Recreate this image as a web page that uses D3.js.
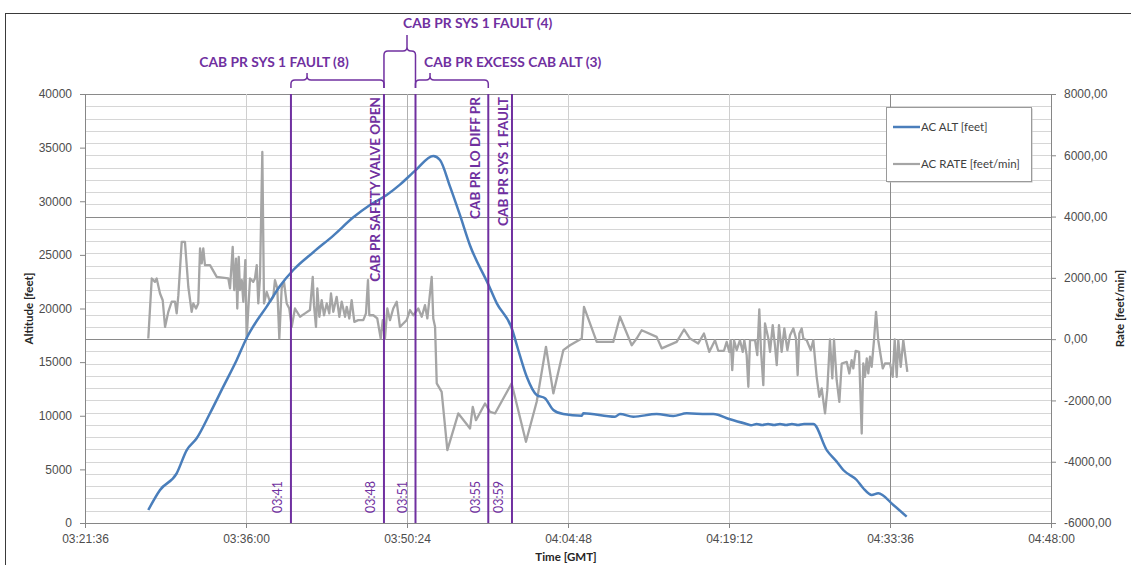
<!DOCTYPE html>
<html>
<head>
<meta charset="utf-8">
<script src="https://cdn.jsdelivr.net/npm/d3@7"></script>
<style>
  body { margin: 0; background: #fff; }
  svg { display: block; font-family: Lato, 'Open Sans', sans-serif; }
</style>
</head>
<body>
<div id="chart"></div>
<script>
// time values are minutes after 03:00:00 GMT
const altMin = [27.26, 28.31, 29.80, 30.70, 31.59, 32.78, 33.97, 35.17, 36.06, 36.81, 37.85, 39.04, 40.23, 42.02, 43.81, 45.60, 47.09, 48.58, 49.77, 51.18, 52.75, 53.35, 54.25, 55.14, 56.03, 57.67, 58.42, 59.76, 60.35, 61.11, 62.00, 62.74, 63.49, 64.38, 66.03, 66.17, 69.00, 69.45, 70.64, 72.73, 74.22, 75.42, 77.21, 77.80, 79.29, 80.78, 81.17, 81.68, 82.15, 82.69, 83.23, 83.76, 84.30, 84.83, 85.37, 85.91, 86.74, 87.94, 88.83, 89.42, 90.62, 91.21, 91.96, 92.55, 93.90, 95.09];
const altFeet = [1210, 3080, 4630, 6800, 7900, 10230, 12710, 15200, 17250, 18600, 20170, 22100, 23590, 25250, 26800, 28500, 29650, 30580, 31550, 32900, 34220, 33850, 31360, 28700, 25900, 22250, 20500, 18180, 16130, 13640, 11940, 11630, 10540, 10160, 10000, 10230, 9910, 10160, 9910, 10160, 9980, 10230, 10160, 10160, 9670, 9230, 9120, 9230, 9130, 9230, 9130, 9230, 9130, 9230, 9130, 9230, 9230, 6800, 5720, 4940, 4010, 3240, 2610, 2770, 1680, 590];

const rateMin = [27.26, 27.57, 27.86, 28.01, 28.31, 28.55, 28.76, 29.05, 29.35, 29.65, 29.80, 29.95, 30.25, 30.54, 30.84, 31.14, 31.29, 31.53, 31.73, 31.89, 32.04, 32.18, 32.33, 32.78, 33.38, 34.42, 34.57, 34.81, 34.95, 35.11, 35.22, 35.35, 35.46, 35.62, 35.76, 35.94, 36.06, 36.36, 36.65, 36.80, 36.96, 37.10, 37.25, 37.46, 37.61, 37.85, 38.15, 38.44, 38.59, 38.80, 38.98, 39.19, 39.40, 39.64, 39.87, 40.09, 40.38, 40.83, 41.28, 41.72, 41.97, 42.08, 42.26, 42.38, 42.56, 42.77, 42.98, 43.22, 43.45, 43.60, 43.81, 44.11, 44.35, 44.56, 44.86, 45.01, 45.24, 45.45, 45.69, 46.04, 46.49, 46.73, 46.91, 47.03, 47.39, 47.74, 48.05, 48.23, 48.43, 48.64, 48.88, 49.17, 49.48, 49.77, 50.07, 50.37, 50.67, 50.96, 51.41, 51.72, 52.01, 52.22, 52.61, 52.75, 52.91, 53.06, 53.50, 54.01, 54.99, 56.04, 56.28, 56.57, 57.38, 57.82, 58.27, 59.76, 61.04, 62.00, 62.83, 63.49, 64.38, 64.98, 66.03, 66.23, 67.37, 68.85, 69.45, 70.50, 70.94, 71.39, 72.73, 73.18, 74.52, 75.18, 75.71, 76.45, 76.96, 77.44, 77.95, 78.24, 78.75, 78.99, 79.23, 79.35, 79.49, 79.65, 79.89, 80.18, 80.43, 80.57, 80.78, 80.93, 81.08, 81.53, 81.73, 81.91, 82.06, 82.27, 82.42, 82.72, 82.87, 83.11, 83.31, 83.47, 83.67, 83.91, 84.15, 84.42, 84.66, 84.95, 85.19, 85.34, 85.49, 85.70, 85.85, 86.15, 86.51, 86.74, 87.04, 87.28, 87.49, 87.79, 87.99, 88.23, 88.44, 88.59, 88.83, 89.07, 89.28, 89.73, 89.96, 90.17, 90.32, 90.53, 90.83, 91.07, 91.21, 91.36, 91.52, 91.66, 91.81, 91.96, 92.17, 92.35, 92.55, 92.95, 93.15, 93.60, 93.84, 94.02, 94.20, 94.34, 94.56, 94.79, 95.15];
const rateFpm = [20, 1980, 1870, 1980, 1490, 1270, 400, 890, 1220, 1220, 840, 1435, 3175, 3175, 1710, 890, 1165, 1000, 1165, 2960, 2470, 2960, 2415, 2415, 2030, 1980, 1655, 3010, 1600, 2630, 1000, 2685, 1600, 1925, 1220, 2580, 20, 1980, 1870, 1980, 2415, 1165, 1980, 6110, 1165, 1545, 1220, 1380, 1925, 1655, 20, 1655, 1870, 1165, 1000, 400, 1000, 730, 840, 950, 2030, 1110, 400, 1655, 730, 1270, 780, 1165, 840, 1490, 890, 1380, 730, 1220, 730, 1055, 675, 1270, 565, 620, 620, 840, 1925, 780, 780, 675, 20, 620, 20, 1000, 620, 1000, 1220, 400, 510, 620, 950, 780, 1000, 730, 1110, 675, 2030, 675, 400, -1445, -1720, -3620, -2425, -2915, -2210, -2645, -2100, -2370, -2425, -1445, -3350, -2045, -250, -1770, -360, -200, 20, 1055, -90, -90, 730, -200, 20, 290, 75, -300, -90, 315, 20, -140, 185, -415, -35, -380, -380, -90, -415, -35, -1010, -35, -360, -35, -415, -35, -520, -1555, -35, -35, -520, 970, -360, -1500, 510, 20, -415, 455, -200, -850, 455, -415, 350, -360, 130, 350, 20, -1175, 185, 350, 20, -35, -360, -35, -1230, -1880, -1610, -2425, -1665, -10, -1280, -10, -1340, -2045, -795, -740, -1120, -685, -955, -380, -415, -3080, -795, -1230, -630, -1120, -575, -905, -35, 890, -35, -955, -795, -795, -1230, -10, -1230, -35, -905, -35, -1065];

const xTickLabels = ['03:21:36', '03:36:00', '03:50:24', '04:04:48', '04:19:12', '04:33:36', '04:48:00'];
const altTicks = [0, 5000, 10000, 15000, 20000, 25000, 30000, 35000, 40000];
const rateTicks = [-6000, -4000, -2000, 0, 2000, 4000, 6000, 8000];

// warning events (vertical lines)
const eventMin = [40.02, 48.34, 51.16, 57.67, 59.79];
const eventTime = ['03:41', '03:48', '03:51', '03:55', '03:59'];
const eventText = [null, 'CAB PR SAFETY VALVE OPEN', null, 'CAB PR LO DIFF PR', 'CAB PR SYS 1 FAULT'];

// grouped warnings: [from event, to event], tip time, text
const groupFrom = [0, 1, 2];
const groupTo = [1, 2, 3];
const groupTipMin = [41.46, 50.40, 52.46];
const groupText = ['CAB PR SYS 1 FAULT (8)', 'CAB PR SYS 1 FAULT (4)', 'CAB PR EXCESS CAB ALT (3)'];

const W = 1131, H = 565;
const plotL = 85, plotR = 1051, plotT = 94, plotB = 523;
const purple = '#7030a0';

const parseTime = d3.timeParse('%H:%M:%S');
const t0 = parseTime('03:00:00');
const toDate = m => new Date(+t0 + m * 60000);

const x = d3.scaleTime().domain([parseTime(xTickLabels[0]), parseTime(xTickLabels[xTickLabels.length - 1])]).range([plotL, plotR]);
const yAlt = d3.scaleLinear().domain([0, 40000]).range([plotB, plotT]);
const yRate = d3.scaleLinear().domain([-6000, 8000]).range([plotB, plotT]);

const svg = d3.select('#chart').append('svg')
    .attr('width', W)
    .attr('height', H);

// outer frame of the figure
svg.append('rect')
    .attr('x', 5.5).attr('y', 13.5)
    .attr('width', W).attr('height', H)
    .attr('fill', 'none')
    .attr('stroke', '#3a3a3a');

// gridlines
const grid = svg.append('g');
grid.selectAll('.hminor')
    .data(d3.range(-6000, 8001, 400))
    .enter().append('line')
    .attr('x1', plotL).attr('x2', plotR)
    .attr('y1', d => Math.round(yRate(d)) + 0.5)
    .attr('y2', d => Math.round(yRate(d)) + 0.5)
    .attr('stroke', d => (d === 8000 || d === 4000 || d === 0) ? '#8a8a8a' : '#d6d6d6');

grid.selectAll('.vgrid')
    .data(xTickLabels.slice(1, -1))
    .enter().append('line')
    .attr('x1', d => Math.round(x(parseTime(d))) + 0.5)
    .attr('x2', d => Math.round(x(parseTime(d))) + 0.5)
    .attr('y1', plotT).attr('y2', plotB)
    .attr('stroke', d => d === '04:33:36' ? '#8a8a8a' : (d === '03:50:24' ? '#b0b0b0' : '#cfcfcf'));

// axes
const axisColor = '#868686';
const tickText = g => g.selectAll('text')
    .attr('fill', '#4d4d4d')
    .style('font-size', '12px');

const gx = svg.append('g')
    .attr('transform', `translate(0,${plotB})`)
    .call(d3.axisBottom(x)
        .tickValues(xTickLabels.map(parseTime))
        .tickFormat(d3.timeFormat('%H:%M:%S'))
        .tickSize(5).tickPadding(6));
gx.call(tickText);

const gl = svg.append('g')
    .attr('transform', `translate(${plotL},0)`)
    .call(d3.axisLeft(yAlt).tickValues(altTicks).tickFormat(d => d).tickSize(5).tickPadding(8));
gl.call(tickText);

const gr = svg.append('g')
    .attr('transform', `translate(${plotR},0)`)
    .call(d3.axisRight(yRate).tickValues(rateTicks)
        .tickFormat(d => d.toFixed(2).replace('.', ','))
        .tickSize(5).tickPadding(8));
gr.call(tickText);

[gx, gl, gr].forEach(g => {
    g.selectAll('path.domain').attr('stroke', axisColor);
    g.selectAll('.tick line').attr('stroke', axisColor);
});

// axis titles
svg.append('text')
    .attr('x', 566).attr('y', 561)
    .attr('text-anchor', 'middle')
    .style('font-size', '11.5px').style('font-weight', 'bold')
    .attr('fill', '#262626')
    .text('Time [GMT]');
svg.append('text')
    .attr('transform', `translate(33,${(plotT + plotB) / 2}) rotate(-90)`)
    .attr('text-anchor', 'middle')
    .style('font-size', '11.5px').style('font-weight', 'bold')
    .attr('fill', '#262626')
    .text('Altitude [feet]');
svg.append('text')
    .attr('transform', `translate(1124,${(plotT + plotB) / 2}) rotate(-90)`)
    .attr('text-anchor', 'middle')
    .style('font-size', '11.5px').style('font-weight', 'bold')
    .attr('fill', '#262626')
    .text('Rate [feet/min]');

// series
const rateData = rateMin.map((m, i) => ({ t: toDate(m), v: rateFpm[i] }));
const altData = altMin.map((m, i) => ({ t: toDate(m), v: altFeet[i] }));

svg.append('path')
    .datum(rateData)
    .attr('fill', 'none')
    .attr('stroke', '#a5a5a5')
    .attr('stroke-width', 2.3)
    .attr('stroke-linejoin', 'round')
    .attr('d', d3.line().x(d => x(d.t)).y(d => yRate(d.v)));

svg.append('path')
    .datum(altData)
    .attr('fill', 'none')
    .attr('stroke', '#4a7ebb')
    .attr('stroke-width', 2.5)
    .attr('stroke-linejoin', 'round')
    .attr('d', d3.line().x(d => x(d.t)).y(d => yAlt(d.v)).curve(d3.curveMonotoneX));

// event lines and labels
const textDx = [0, -4, 0, -8, -4];
const ev = svg.append('g');
eventMin.forEach((m, i) => {
    const ex = x(toDate(m));
    ev.append('line')
        .attr('x1', ex).attr('x2', ex)
        .attr('y1', plotT).attr('y2', plotB)
        .attr('stroke', purple)
        .attr('stroke-width', 2);
    ev.append('text')
        .attr('transform', `translate(${ex - 8.5},${plotB - 10}) rotate(-90)`)
        .attr('fill', purple)
        .style('font-size', '12.5px')
        .text(eventTime[i]);
    if (eventText[i]) {
        ev.append('text')
            .attr('transform', `translate(${ex + textDx[i]},${plotT + 3}) rotate(-90)`)
            .attr('text-anchor', 'end')
            .attr('fill', purple)
            .style('font-size', '13.6px').style('font-weight', 'bold')
            .text(eventText[i]);
    }
});

// brackets above the plot
const braceLevel = [80, 51, 80];
const braceTip = [73, 35, 73];
const labelX = [274, 403, 424];
const labelY = [67, 28, 67];
const labelAnchor = ['middle', 'start', 'start'];
const yb = 88, r = 4;
groupText.forEach((txt, i) => {
    const x1 = x(toDate(eventMin[groupFrom[i]]));
    const x2 = x(toDate(eventMin[groupTo[i]]));
    const xt = x(toDate(groupTipMin[i]));
    const yh = braceLevel[i], ytip = braceTip[i];
    const p = d3.path();
    p.moveTo(x1, yb);
    p.lineTo(x1, yh + r);
    p.quadraticCurveTo(x1, yh, x1 + r, yh);
    p.lineTo(xt - r, yh);
    p.quadraticCurveTo(xt, yh, xt, yh - r);
    p.lineTo(xt, ytip);
    p.moveTo(xt, yh - r);
    p.quadraticCurveTo(xt, yh, xt + r, yh);
    p.lineTo(x2 - r, yh);
    p.quadraticCurveTo(x2, yh, x2, yh + r);
    p.lineTo(x2, yb);
    svg.append('path')
        .attr('d', p.toString())
        .attr('fill', 'none')
        .attr('stroke', purple)
        .attr('stroke-width', 1.5);
    svg.append('text')
        .attr('x', labelX[i]).attr('y', labelY[i])
        .attr('text-anchor', labelAnchor[i])
        .attr('fill', purple)
        .style('font-size', '13.8px').style('font-weight', 'bold')
        .text(txt);
});

// legend
const lg = svg.append('g').attr('transform', 'translate(886,107)');
lg.append('rect')
    .attr('x', 1.5).attr('y', 1.5).attr('width', 145).attr('height', 74)
    .attr('fill', '#bcbcbc');
lg.append('rect')
    .attr('x', 0.5).attr('y', 0.5).attr('width', 145).attr('height', 74)
    .attr('fill', '#fff').attr('stroke', '#9a9a9a');
const legendItems = [
    { name: 'AC ALT [feet]', color: '#4a7ebb', w: 2.5, y: 20 },
    { name: 'AC RATE [feet/min]', color: '#a5a5a5', w: 2.2, y: 57 }
];
legendItems.forEach(d => {
    lg.append('line')
        .attr('x1', 7).attr('x2', 34).attr('y1', d.y).attr('y2', d.y)
        .attr('stroke', d.color).attr('stroke-width', d.w);
    lg.append('text')
        .attr('x', 35).attr('y', d.y + 4)
        .attr('fill', '#404040')
        .style('font-size', '11.5px')
        .text(d.name);
});
</script>
</body>
</html>
